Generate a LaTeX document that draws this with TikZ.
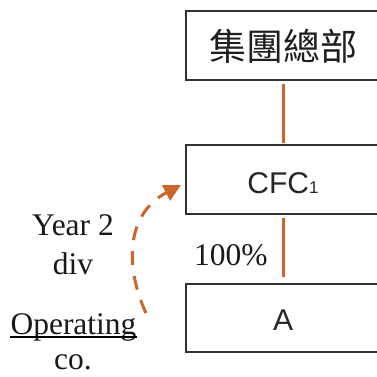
\documentclass[tikz,border=0pt]{standalone}
\usepackage{fontspec}
\setmainfont{Liberation Serif}
\newfontfamily\cjk{Noto Sans CJK TC}
\newfontfamily\sansf{Liberation Sans}
\usetikzlibrary{arrows.meta}
\definecolor{boxline}{RGB}{50,50,50}
\definecolor{orng}{RGB}{204,102,44}
\tikzset{
  x=1pt, y=-1pt,
  entity/.style={draw=boxline, line width=2pt},
  link/.style={draw=orng, line width=3pt},
  lbl/.style={inner sep=0pt, anchor=base, font=\fontsize{31.5}{31.5}\selectfont, text=black!90},
  boxtxt/.style={inner sep=0pt, anchor=base, font=\sansf\fontsize{30}{30}\selectfont, text=black!85},
}
\begin{document}
\begin{tikzpicture}
\useasboundingbox (0,0) rectangle (377,376);
\begin{scope}
\clip (0,0) rectangle (377,376);
\draw[entity] (186,11) rectangle (400,80);
\draw[entity] (186,145) rectangle (400,214);
\draw[entity] (186,284) rectangle (400,352);
\node[inner sep=0pt, font=\cjk\fontsize{37}{37}\selectfont, text=black!88] (hq) at (283,46) {集團總部};
\node[boxtxt] (cfc) at (283,193) {CFC\fontsize{17}{17}\selectfont 1};
\node[boxtxt] (a) at (283,330) {A};
\coordinate (l1a) at (283,84);
\coordinate (l1b) at (283,143);
\coordinate (l2a) at (283,218);
\coordinate (l2b) at (283,277);
\draw[link] (l1a) -- (l1b);
\draw[link] (l2a) -- (l2b);
\node[lbl] (y2) at (73,235) {Year 2};
\node[lbl] (div) at (73,274) {div};
\node[lbl] (op) at (73.5,334) {Operating};
\node[lbl] (co) at (73,369) {co.};
\node[lbl, anchor=base west] (pct) at (194,265) {100\%};
\draw[line width=1.3pt] ([yshift=-3pt]op.base west) -- ([yshift=-3pt]op.base east);
\coordinate (s) at (146,313);
\coordinate (t) at (181,185);
\draw[orng, line width=3pt, dash pattern=on 14pt off 11pt, -{Triangle[length=17pt,width=17pt]}]
  (s) .. controls (126,270) and (124,215) .. (t);
\end{scope}
\end{tikzpicture}
\end{document}
